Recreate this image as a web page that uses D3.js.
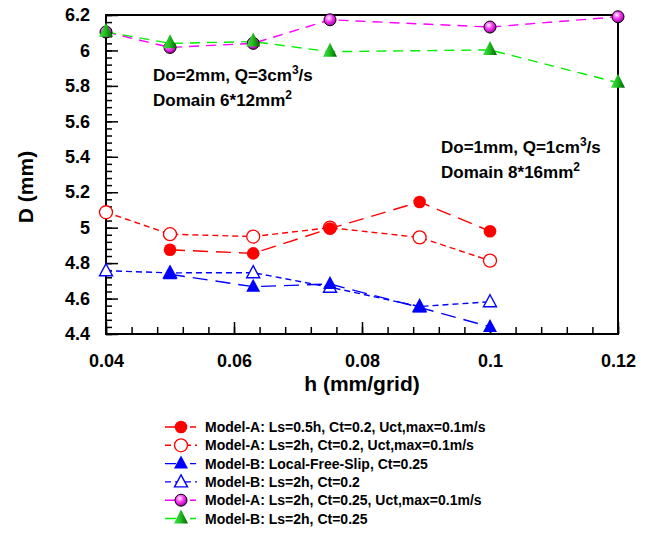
<!DOCTYPE html>
<html>
<head>
<meta charset="utf-8">
<script src="https://cdn.jsdelivr.net/npm/d3@7"></script>
<style>
  body { margin: 0; background: #fff; }
  text { font-family: "Liberation Sans", Arial, sans-serif; font-weight: bold; }
</style>
</head>
<body>
<script>
// data
var hA = [0.05, 0.063, 0.075, 0.089, 0.1];
var hB = [0.04, 0.05, 0.063, 0.075, 0.089, 0.1];
var hC = [0.04, 0.05, 0.063, 0.075, 0.1, 0.12];

var modelA_05h = [4.875, 4.855, 4.995, 5.145, 4.98];
var modelA_2h = [5.087, 4.963, 4.95, 5.0, 4.945, 4.814];
var modelB_free = [4.737, 4.667, 4.682, 4.55, 4.44];
var modelB_2h = [4.757, 4.745, 4.746, 4.664, 4.555, 4.582];
var modelA_2h_025 = [6.104, 6.017, 6.04, 6.173, 6.132, 6.19];
var modelB_2h_025 = [6.105, 6.04, 6.05, 5.993, 6.003, 5.818];

var xTicks = [0.04, 0.06, 0.08, 0.1, 0.12];
var xTickLabels = ["0.04", "0.06", "0.08", "0.1", "0.12"];
var yTicks = [4.4, 4.6, 4.8, 5, 5.2, 5.4, 5.6, 5.8, 6, 6.2];
var yTickLabels = ["4.4", "4.6", "4.8", "5", "5.2", "5.4", "5.6", "5.8", "6", "6.2"];

var seriesNames = [
  "Model-A: Ls=0.5h, Ct=0.2, Uct,max=0.1m/s",
  "Model-A: Ls=2h, Ct=0.2, Uct,max=0.1m/s",
  "Model-B: Local-Free-Slip, Ct=0.25",
  "Model-B: Ls=2h, Ct=0.2",
  "Model-A: Ls=2h, Ct=0.25, Uct,max=0.1m/s",
  "Model-B: Ls=2h, Ct=0.25"
];

var series = [
  { name: seriesNames[0], x: hA, y: modelA_05h, color: "#ff0000", dash: "15,8", marker: "circleFilled" },
  { name: seriesNames[1], x: hB, y: modelA_2h, color: "#ff0000", dash: "6,4", marker: "circleOpen" },
  { name: seriesNames[2], x: hA, y: modelB_free, color: "#0000ff", dash: "15,8", marker: "triFilled" },
  { name: seriesNames[3], x: hB, y: modelB_2h, color: "#0000ff", dash: "6,4", marker: "triOpen" },
  { name: seriesNames[4], x: hC, y: modelA_2h_025, color: "#ff00ff", dash: "10,7", marker: "sphere" },
  { name: seriesNames[5], x: hC, y: modelB_2h_025, color: "#00ee00", dash: "10,7", marker: "cone" }
];
// order in which markers are stacked (filled ones end up on top)
var markerOrder = [1, 3, 4, 5, 0, 2];

var svgWidth = 654, svgHeight = 533;
var margin = { left: 106, top: 15, right: 36, bottom: 199 };
var chartWidth = svgWidth - margin.left - margin.right;
var chartHeight = svgHeight - margin.top - margin.bottom;

var svg = d3.select("body").append("svg")
  .attr("width", svgWidth)
  .attr("height", svgHeight);

var defs = svg.append("defs");
var rg = defs.append("radialGradient").attr("id", "sphere")
  .attr("cx", "40%").attr("cy", "35%").attr("r", "65%");
rg.append("stop").attr("offset", "0%").attr("stop-color", "#ffffff");
rg.append("stop").attr("offset", "45%").attr("stop-color", "#ff40ff");
rg.append("stop").attr("offset", "100%").attr("stop-color", "#a000a0");
var lg = defs.append("linearGradient").attr("id", "cone")
  .attr("x1", "0%").attr("y1", "0%").attr("x2", "100%").attr("y2", "0%");
lg.append("stop").attr("offset", "0%").attr("stop-color", "#40e040");
lg.append("stop").attr("offset", "45%").attr("stop-color", "#20c020");
lg.append("stop").attr("offset", "100%").attr("stop-color", "#006000");

var chartGroup = svg.append("g")
  .attr("transform", `translate(${margin.left}, ${margin.top})`);

var xScale = d3.scaleLinear().domain([0.04, 0.12]).range([0, chartWidth]);
var yScale = d3.scaleLinear().domain([4.4, 6.2]).range([chartHeight, 0]);

// minor ticks
var xMinor = d3.range(0.04, 0.1201, 0.004);
var yMinor = d3.range(4.4, 6.2001, 0.04);

chartGroup.append("g")
  .attr("transform", `translate(0,${chartHeight})`)
  .call(d3.axisBottom(xScale).tickValues(xMinor).tickSize(-7).tickFormat(""))
  .call(g => g.select(".domain").remove());
chartGroup.append("g")
  .call(d3.axisLeft(yScale).tickValues(yMinor).tickSize(-6).tickFormat(""))
  .call(g => g.select(".domain").remove());

// major ticks + labels
var xAxis = chartGroup.append("g")
  .attr("transform", `translate(0,${chartHeight})`)
  .call(d3.axisBottom(xScale).tickValues(xTicks).tickSize(-12).tickPadding(20)
    .tickFormat((d, i) => xTickLabels[i]));
xAxis.select(".domain").remove();
xAxis.selectAll("text").attr("font-size", 18).attr("fill", "#000")
  .style("font-family", "'Liberation Sans', Arial, sans-serif").style("font-weight", "bold");

var yAxis = chartGroup.append("g")
  .call(d3.axisLeft(yScale).tickValues(yTicks).tickSize(-12).tickPadding(16)
    .tickFormat((d, i) => yTickLabels[i]));
yAxis.select(".domain").remove();
yAxis.selectAll("text").attr("font-size", 18).attr("fill", "#000")
  .style("font-family", "'Liberation Sans', Arial, sans-serif").style("font-weight", "bold");

chartGroup.selectAll(".tick line").attr("stroke", "#000").attr("stroke-width", 1.5);

// frame
chartGroup.append("rect")
  .attr("width", chartWidth)
  .attr("height", chartHeight)
  .attr("fill", "none")
  .attr("stroke", "#000")
  .attr("stroke-width", 2);

function drawMarker(g, type, color) {
  if (type === "circleFilled") {
    g.append("circle").attr("r", 6.3).attr("fill", color);
  } else if (type === "circleOpen") {
    g.append("circle").attr("r", 6.5).attr("fill", "#fff").attr("stroke", color).attr("stroke-width", 1.3);
  } else if (type === "triFilled") {
    g.append("path").attr("d", "M0,-8L7,5L-7,5Z").attr("fill", color);
  } else if (type === "triOpen") {
    g.append("path").attr("d", "M0,-7L6.5,5L-6.5,5Z").attr("fill", "#fff").attr("stroke", color).attr("stroke-width", 1.4);
  } else if (type === "sphere") {
    g.append("circle").attr("r", 6).attr("fill", "url(#sphere)").attr("stroke", "#000").attr("stroke-width", 1);
  } else if (type === "cone") {
    g.append("path").attr("d", "M0,-9L7,5L-7,5Z").attr("fill", "url(#cone)");
  }
}

var line = d3.line().x(d => xScale(d[0])).y(d => yScale(d[1]));

series.forEach(function(s) {
  var pts = s.x.map((x, i) => [x, s.y[i]]);
  chartGroup.append("path")
    .datum(pts)
    .attr("d", line)
    .attr("fill", "none")
    .attr("stroke", s.color)
    .attr("stroke-width", 1.4)
    .attr("stroke-dasharray", s.dash);
});

markerOrder.forEach(function(k) {
  var s = series[k];
  s.x.forEach(function(x, i) {
    var g = chartGroup.append("g")
      .attr("transform", `translate(${xScale(x)},${yScale(s.y[i])})`);
    drawMarker(g, s.marker, s.color);
  });
});

// annotations
function annot(x, y, parts) {
  var t = svg.append("text").attr("x", x).attr("y", y).attr("font-size", 17).attr("fill", "#000");
  parts.forEach(function(p) {
    var ts = t.append("tspan").text(p.t);
    if (p.sup) ts.attr("dy", -7).attr("font-size", 12);
    if (p.down) ts.attr("dy", 7);
  });
}
annot(153, 81, [{ t: "Do=2mm, Q=3cm" }, { t: "3", sup: true }, { t: "/s", down: true }]);
annot(153, 106, [{ t: "Domain 6*12mm" }, { t: "2", sup: true }]);
annot(441, 153, [{ t: "Do=1mm, Q=1cm" }, { t: "3", sup: true }, { t: "/s", down: true }]);
annot(441, 178, [{ t: "Domain 8*16mm" }, { t: "2", sup: true }]);

// axis titles
svg.append("text")
  .attr("x", margin.left + chartWidth / 2)
  .attr("y", 391)
  .attr("text-anchor", "middle")
  .attr("font-size", 21)
  .text("h (mm/grid)");

svg.append("text")
  .attr("transform", "translate(33,187) rotate(-90)")
  .attr("text-anchor", "middle")
  .attr("font-size", 21)
  .text("D (mm)");

// legend
var legend = svg.append("g").attr("transform", "translate(165,427)");
series.forEach(function(s, i) {
  var row = legend.append("g").attr("transform", `translate(0,${i * 18.3})`);
  row.append("line")
    .attr("x1", 0).attr("x2", 32).attr("y1", 0).attr("y2", 0)
    .attr("stroke", s.color).attr("stroke-width", 1.4)
    .attr("stroke-dasharray", s.dash === "6,4" ? "6,4" : "11,14,6,10");
  var m = row.append("g").attr("transform", "translate(16,0)");
  drawMarker(m, s.marker, s.color);
  row.append("text")
    .attr("x", 40).attr("y", 5)
    .attr("font-size", 14)
    .text(s.name);
});
</script>
</body>
</html>
